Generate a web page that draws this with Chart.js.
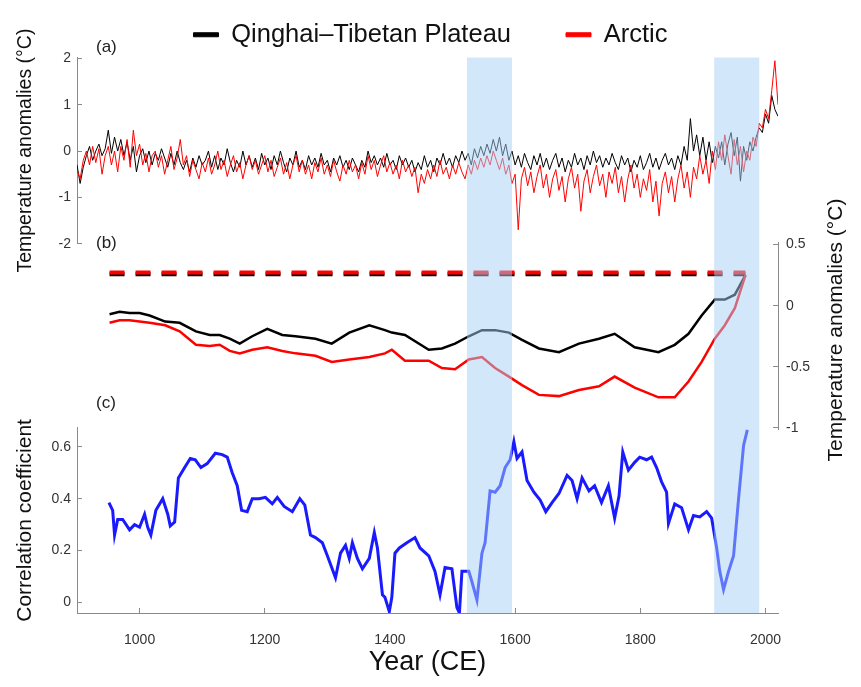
<!DOCTYPE html>
<html>
<head>
<meta charset="utf-8">
<script src="https://cdn.jsdelivr.net/npm/chart.js@4.4.1/dist/chart.umd.min.js"></script>
<style>
  html, body { margin: 0; padding: 0; background: #fff; }
  #wrap { position: relative; width: 861px; height: 687px; }
</style>
</head>
<body>
<div id="wrap"><canvas id="tempChart"></canvas></div>
<script>
// panel (a): temperature anomalies, sampled every 5 years from 900 CE
const annualStart = 900;
const annualStep = 5;
const annualQTP = [
  -0.3, -0.7, -0.35, -0.1, 0.1, -0.2, 0.0, 0.15, -0.1, 0.05,
  0.45, -0.05, 0.3, 0.0, 0.25, -0.1, 0.2, -0.2, 0.1, -0.45,
  -0.1, 0.05, -0.25, 0.0, -0.3, -0.05, -0.2, 0.05, -0.15, -0.35,
  -0.05, -0.3, 0.0, -0.25, -0.4, -0.2, -0.45, -0.15, -0.35, -0.1,
  -0.3, -0.2, 0.0, -0.35, -0.1, -0.4, -0.15, -0.3, 0.05, -0.25,
  -0.45, -0.2, -0.35, 0.0, -0.3, -0.1, -0.35, -0.15, -0.4, -0.05,
  -0.3, -0.15, -0.4, -0.1, -0.3, 0.0, -0.25, -0.45, -0.15, -0.3,
  0.0, -0.35, -0.2, -0.4, -0.1, -0.3, -0.15, -0.35, -0.05, -0.3,
  -0.2, -0.45, -0.15, -0.3, -0.1, -0.35, -0.2, -0.4, -0.15, -0.3,
  -0.45, -0.2, -0.35, 0.0, -0.25, -0.1, -0.3, -0.15, -0.35, -0.05,
  -0.3, -0.2, -0.4, -0.1, -0.3, -0.15, -0.35, -0.2, -0.45, -0.25,
  -0.4, -0.1, -0.35, -0.2, -0.45, -0.15, -0.3, -0.05, -0.3, -0.15,
  -0.35, -0.1, -0.25, 0.0, -0.2, -0.05, -0.3, 0.05, -0.15, 0.1,
  -0.1, 0.15, -0.05, 0.25, 0.0, 0.3, -0.1, 0.15, -0.2, 0.0,
  -0.3, -0.1, -0.35, -0.05, -0.25, -0.4, -0.1, -0.3, -0.05, -0.35,
  -0.15, -0.4, -0.2, -0.05, -0.35, -0.15, -0.45, -0.2, -0.35, -0.05,
  -0.3, -0.15, -0.4, -0.1, -0.3, 0.0, -0.25, -0.1, -0.35, -0.15,
  -0.3, -0.05, -0.25, -0.4, -0.1, -0.3, -0.15, -0.45, -0.2, -0.35,
  -0.1, -0.4, -0.25, -0.05, -0.35, -0.15, -0.4, -0.2, -0.05, -0.3,
  -0.15, -0.4, -0.1, -0.3, 0.1, -0.2, 0.7, 0.0, 0.35, -0.1,
  0.3, -0.2, 0.2, -0.25, 0.1, -0.15, 0.2, -0.3, 0.15, 0.4,
  -0.1, 0.3, -0.65, 0.1, -0.2, 0.2, 0.0, 0.3, 0.5, 0.4,
  0.8, 0.6, 1.2, 0.9, 0.75
];
const annualArctic = [
  -0.4, -0.6, -0.2, 0.0, -0.3, 0.1, -0.25, 0.05, -0.5, -0.1,
  0.1, -0.3, 0.0, -0.45, 0.1, -0.2, 0.25, -0.35, 0.45, -0.1,
  0.15, -0.3, -0.05, -0.45, -0.1, 0.0, -0.35, -0.1, -0.5, -0.2,
  0.1, -0.4, -0.15, 0.25, -0.3, -0.1, -0.55, -0.2, -0.4, -0.6,
  -0.25, -0.45, -0.15, -0.5, -0.3, 0.0, -0.4, -0.2, -0.55, -0.3,
  -0.1, -0.45, -0.25, -0.6, -0.3, -0.1, -0.4, -0.2, -0.5, -0.3,
  -0.1, -0.45, -0.2, -0.55, -0.35, -0.15, -0.5, -0.25, -0.6, -0.3,
  -0.1, -0.45, -0.2, -0.5, -0.3, -0.6, -0.25, -0.45, -0.15, -0.5,
  -0.3, -0.55, -0.2, -0.45, -0.65, -0.3, -0.5, -0.2, -0.45, -0.3,
  -0.6, -0.25, -0.5, -0.1, -0.4, -0.2, -0.55, -0.3, -0.1, -0.45,
  -0.25, -0.5, -0.3, -0.6, -0.2, -0.45, -0.3, -0.55, -0.35, -0.9,
  -0.5, -0.7, -0.4, -0.6, -0.3, -0.55, -0.2, -0.5, -0.35, -0.6,
  -0.3, -0.5, -0.25, -0.45, -0.6, -0.3, -0.5, -0.2, -0.4, -0.15,
  -0.35, -0.1, -0.3, 0.0, -0.2, -0.4, -0.15, -0.5, -0.3, -0.7,
  -0.5, -1.7, -0.6, -0.35, -0.75, -0.45, -0.9, -0.55, -0.3, -0.8,
  -0.5, -1.0, -0.6, -0.4, -0.85, -0.55, -1.1, -0.6, -0.35, -0.8,
  -0.5, -1.3, -0.65, -0.4, -0.9, -0.55, -0.3, -0.75, -0.5, -1.0,
  -0.45, -0.7, -0.35, -0.9, -0.55, -1.1, -0.6, -0.3, -0.8, -0.5,
  -1.0, -0.6, -0.85, -0.4, -1.1, -0.65, -1.4, -0.7, -0.45, -0.9,
  -0.55, -1.1, -0.6, -0.3, -0.8, -0.45, -1.0, -0.35, -0.6, -0.1,
  -0.5, -0.2, -0.7, 0.0, -0.4, 0.2, -0.2, 0.35, -0.1, -0.5,
  0.25, -0.3, 0.1, -0.45, 0.0, -0.2, 0.3, 0.1, 0.6, 0.5,
  0.9, 0.7, 1.3, 1.95, 1.0
];

// panel (b): smoothed anomalies
const smoothYears = [952, 968, 984, 1000, 1016, 1041, 1064, 1090, 1112, 1128,
  1144, 1160, 1180, 1204, 1228, 1249, 1281, 1307, 1335, 1367,
  1392, 1403, 1424, 1462, 1483, 1504, 1526, 1547, 1568, 1590,
  1611, 1638, 1670, 1702, 1734, 1759, 1791, 1829, 1855, 1877,
  1898, 1919, 1935, 1951, 1968];
const smoothQTP = [-0.07, -0.05, -0.06, -0.06, -0.08, -0.13, -0.14, -0.21, -0.24, -0.24,
  -0.27, -0.31, -0.25, -0.19, -0.24, -0.25, -0.27, -0.31, -0.22, -0.16,
  -0.2, -0.22, -0.24, -0.36, -0.35, -0.31, -0.25, -0.2, -0.2, -0.22,
  -0.28, -0.35, -0.38, -0.31, -0.27, -0.23, -0.34, -0.38, -0.32, -0.23,
  -0.08, 0.05, 0.05, 0.09, 0.25];
const smoothArctic = [-0.14, -0.12, -0.12, -0.13, -0.14, -0.16, -0.21, -0.32, -0.33, -0.32,
  -0.37, -0.39, -0.36, -0.34, -0.37, -0.39, -0.41, -0.46, -0.44, -0.42,
  -0.39, -0.36, -0.45, -0.45, -0.51, -0.52, -0.44, -0.42, -0.51, -0.58,
  -0.65, -0.73, -0.74, -0.69, -0.66, -0.58, -0.67, -0.75, -0.75, -0.62,
  -0.46, -0.27, -0.16, -0.02, 0.25];
const refYears = [952, 1968];
const refQTP = [0.258, 0.258];
const refArctic = [0.272, 0.272];

// panel (c): running correlation
const corrYears = [951, 957, 960, 965, 973, 984, 992, 1000, 1008, 1013,
  1018, 1026, 1037, 1045, 1049, 1056, 1062, 1072, 1081, 1089,
  1098, 1108, 1121, 1132, 1140, 1148, 1156, 1163, 1172, 1180,
  1191, 1201, 1212, 1220, 1231, 1244, 1256, 1264, 1273, 1281,
  1292, 1300, 1313, 1321, 1329, 1335, 1340, 1348, 1356, 1367,
  1375, 1380, 1388, 1392, 1399, 1403, 1408, 1415, 1427, 1440,
  1448, 1462, 1472, 1480, 1488, 1499, 1507, 1511, 1515, 1526,
  1531, 1539, 1547, 1552, 1560, 1568, 1576, 1584, 1592, 1598,
  1603, 1611, 1619, 1630, 1640, 1649, 1659, 1670, 1683, 1691,
  1699, 1707, 1718, 1727, 1738, 1749, 1759, 1766, 1772, 1781,
  1791, 1799, 1810, 1818, 1826, 1834, 1842, 1845, 1855, 1866,
  1877, 1885, 1895, 1906, 1914, 1922, 1927, 1933, 1941, 1949,
  1957, 1965, 1971];
const corrValues = [0.385, 0.355, 0.26, 0.32, 0.32, 0.28, 0.30, 0.29, 0.34, 0.29,
  0.26, 0.355, 0.40, 0.34, 0.295, 0.31, 0.48, 0.52, 0.555, 0.55,
  0.52, 0.535, 0.575, 0.57, 0.56, 0.50, 0.45, 0.355, 0.35, 0.40,
  0.40, 0.405, 0.38, 0.405, 0.37, 0.35, 0.40, 0.375, 0.26, 0.25,
  0.23, 0.18, 0.095, 0.19, 0.22, 0.17, 0.23, 0.17, 0.13, 0.17,
  0.27, 0.21, 0.03, 0.02, -0.035, 0.02, 0.19, 0.21, 0.23, 0.25,
  0.21, 0.18, 0.12, 0.03, 0.135, 0.13, -0.02, -0.04, 0.12, 0.12,
  0.08, 0.01, 0.19, 0.23, 0.43, 0.425, 0.45, 0.52, 0.55, 0.62,
  0.555, 0.58, 0.47, 0.425, 0.395, 0.35, 0.385, 0.42, 0.49, 0.47,
  0.40, 0.48, 0.43, 0.45, 0.385, 0.45, 0.325, 0.41, 0.58, 0.51,
  0.54, 0.56, 0.55, 0.56, 0.52, 0.465, 0.425, 0.305, 0.38, 0.365,
  0.28, 0.335, 0.33, 0.35, 0.325, 0.21, 0.12, 0.05, 0.12, 0.18,
  0.40, 0.605, 0.665];

// shaded periods
const bandStarts = [1523, 1918];
const bandEnds = [1595, 1990];

// tick labels
const xTicks = [1000, 1200, 1400, 1600, 1800, 2000];
const aTicks = [-2, -1, 0, 1, 2];
const bTicks = [-1, -0.5, 0, 0.5];
const cTicks = [0, 0.2, 0.4, 0.6];

const annualYears = annualQTP.map((v, i) => annualStart + i * annualStep);
const pts = (xs, ys) => xs.map((x, i) => ({x: x, y: ys[i]}));
const fixTicks = list => scale => { scale.ticks = list.map(v => ({value: v})); };

Chart.defaults.font.family = '"Liberation Sans", Arial, Helvetica, sans-serif';

const bandsPlugin = {
  id: 'bands',
  afterDatasetsDraw(chart) {
    const {ctx, chartArea, scales} = chart;
    ctx.save();
    ctx.fillStyle = 'rgba(165, 209, 245, 0.5)';
    bandStarts.forEach((s, i) => {
      const x0 = scales.x.getPixelForValue(s);
      const x1 = scales.x.getPixelForValue(bandEnds[i]);
      ctx.fillRect(x0, chartArea.top, x1 - x0, chartArea.bottom - chartArea.top);
    });
    ctx.restore();
  }
};

const labelsPlugin = {
  id: 'panelLabels',
  afterDraw(chart) {
    const ctx = chart.ctx;
    ctx.save();
    ctx.fillStyle = '#222';
    ctx.font = '17px "Liberation Sans", Arial, sans-serif';
    ctx.textBaseline = 'middle';
    ctx.fillText('(a)', 96, 47);
    ctx.fillText('(b)', 96, 243);
    ctx.fillText('(c)', 96, 403);
    // right axis title reads bottom to top like the left ones
    ctx.fillStyle = '#111';
    ctx.font = '21px "Liberation Sans", Arial, sans-serif';
    ctx.translate(836, 330);
    ctx.rotate(-Math.PI / 2);
    ctx.textAlign = 'center';
    ctx.fillText('Temperature anomalies (°C)', 0, 0);
    ctx.restore();
  }
};

const axisGrid = {drawOnChartArea: false, drawTicks: true, tickLength: -5, color: '#8a8a8a'};
const axisBorder = {color: '#8a8a8a', width: 1};
const tickFont = {size: 14};
const plainLabel = v => String(v);
const gapAxis = (pos, weight, w) => ({
  type: 'linear', position: pos, stack: pos, stackWeight: weight, min: 0, max: 1,
  grid: {display: false}, border: {display: false}, ticks: {display: false},
  afterFit: s => { s.width = w; }
});

new Chart(document.getElementById('tempChart'), {
  type: 'line',
  data: {
    datasets: [{
      label: 'Qinghai–Tibetan Plateau',
      data: pts(annualYears, annualQTP),
      yAxisID: 'yA',
      borderColor: '#000',
      backgroundColor: '#000',
      borderWidth: 1,
      order: 1
    }, {
      label: 'Arctic',
      data: pts(annualYears, annualArctic),
      yAxisID: 'yA',
      borderColor: '#f00',
      backgroundColor: '#f00',
      borderWidth: 1,
      order: 0
    }, {
      label: 'QTP smoothed',
      data: pts(smoothYears, smoothQTP),
      yAxisID: 'yB',
      borderColor: '#000',
      borderWidth: 2.5,
      order: 1
    }, {
      label: 'Arctic smoothed',
      data: pts(smoothYears, smoothArctic),
      yAxisID: 'yB',
      borderColor: '#f00',
      borderWidth: 2.5,
      order: 0
    }, {
      label: 'QTP level',
      data: pts(refYears, refQTP),
      yAxisID: 'yB',
      borderColor: '#000',
      borderWidth: 4,
      borderDash: [15, 11],
      order: 1
    }, {
      label: 'Arctic level',
      data: pts(refYears, refArctic),
      yAxisID: 'yB',
      borderColor: '#f00',
      borderWidth: 4,
      borderDash: [15, 11],
      order: 0
    }, {
      label: 'Correlation',
      data: pts(corrYears, corrValues),
      yAxisID: 'yC',
      borderColor: '#1a1aff',
      borderWidth: 3,
      order: 0
    }]
  },
  options: {
    responsive: true,
    maintainAspectRatio: false,
    animation: false,
    events: [],
    layout: {padding: {top: -33, left: 0, right: 0, bottom: 0}},
    elements: {point: {radius: 0}, line: {tension: 0}},
    plugins: {
      tooltip: {enabled: false},
      legend: {
        position: 'top',
        labels: {
          filter: item => item.datasetIndex < 2,
          sort: (a, b) => a.datasetIndex - b.datasetIndex,
          boxWidth: 25,
          boxHeight: 4,
          padding: 55,
          color: '#111',
          font: {size: 25.5}
        }
      }
    },
    scales: {
      x: {
        type: 'linear', position: 'bottom', min: 900, max: 2020,
        afterBuildTicks: fixTicks(xTicks),
        grid: axisGrid, border: axisBorder,
        ticks: {padding: 24, color: '#333', font: tickFont, maxRotation: 0, autoSkip: false, callback: plainLabel},
        title: {display: true, text: 'Year (CE)', color: '#111', font: {size: 27}, padding: {top: 0, bottom: 8}},
        afterFit: s => { s.height = 74; }
      },
      // left stack is laid out last-defined first, so the bottom panel comes first here
      yC: {
        type: 'linear', position: 'left', stack: 'left', stackWeight: 185, min: -0.0405, max: 0.673,
        afterBuildTicks: fixTicks(cTicks),
        grid: axisGrid, border: axisBorder,
        ticks: {padding: 11, color: '#333', font: tickFont, callback: plainLabel},
        title: {display: true, text: 'Correlation coefficient', color: '#111', font: {size: 21}, padding: {top: 13, bottom: 0}},
        afterFit: s => { s.width = 77; }
      },
      yGapL: gapAxis('left', 184, 77),
      yA: {
        type: 'linear', position: 'left', stack: 'left', stackWeight: 186, min: -2, max: 2.02,
        afterBuildTicks: fixTicks(aTicks),
        grid: axisGrid, border: axisBorder,
        ticks: {padding: 11, color: '#333', font: tickFont, callback: plainLabel},
        title: {display: true, text: 'Temperature anomalies (°C)', color: '#111', font: {size: 19.5}, padding: {top: 14, bottom: 0}},
        afterFit: s => { s.width = 77; }
      },
      yGapR1: gapAxis('right', 185, 83),
      yB: {
        type: 'linear', position: 'right', stack: 'right', stackWeight: 187, min: -1.016, max: 0.516,
        afterBuildTicks: fixTicks(bTicks),
        grid: axisGrid, border: axisBorder,
        ticks: {padding: 13, color: '#333', font: tickFont, callback: plainLabel},
        afterFit: s => { s.width = 83; }
      },
      yGapR2: gapAxis('right', 183, 83)
    }
  },
  plugins: [bandsPlugin, labelsPlugin]
});
</script>
</body>
</html>
